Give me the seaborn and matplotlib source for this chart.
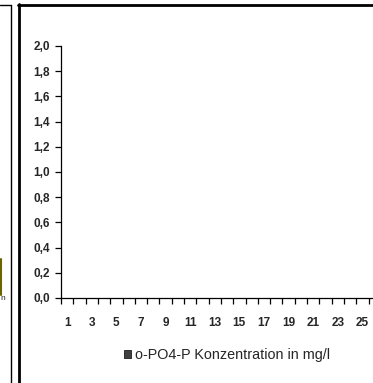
import numpy as np
import pandas as pd
import seaborn as sns
import matplotlib.pyplot as plt
from matplotlib.lines import Line2D
from matplotlib.patches import Patch
from matplotlib.ticker import FixedLocator, FuncFormatter

# Tage (Kategorien) und Messwerte - im Original ist keine Säule sichtbar
days = list(range(1, 27))
po4_values = [0.0] * len(days)
series_label = 'o-PO4-P Konzentration in mg/l'
y_ticks = [0.0, 0.2, 0.4, 0.6, 0.8, 1.0, 1.2, 1.4, 1.6, 1.8, 2.0]

W, H = 373, 383
sns.set_style('white')
plt.rcParams['font.family'] = ['Liberation Sans', 'DejaVu Sans']

fig = plt.figure(figsize=(W / 100, H / 100), dpi=100)
fig.patch.set_facecolor('white')

# Achsen in Pixeln des Originals
cat_w = 12.3
left_px, top_px, base_px = 61.0, 46.0, 298.0
ax = fig.add_axes([left_px / W, 1 - base_px / H, len(days) * cat_w / W, (base_px - top_px) / H])

df = pd.DataFrame({'Tag': [str(d) for d in days], 'Wert': po4_values})
sns.barplot(data=df, x='Tag', y='Wert', color='#404040', linewidth=0, ax=ax)

ax.set_xlim(-0.5, len(days) - 0.5)
ax.set_ylim(0, 2.0)
ax.set_xlabel('')
ax.set_ylabel('')
for s in ['top', 'right']:
    ax.spines[s].set_visible(False)
for s in ['left', 'bottom']:
    ax.spines[s].set_color('black')
    ax.spines[s].set_linewidth(0.9)

ax.set_yticks(y_ticks)
ax.yaxis.set_major_formatter(FuncFormatter(lambda v, p: f'{v:.1f}'.replace('.', ',')))
ax.tick_params(axis='y', which='major', left=True, direction='out', length=4, width=0.9,
               color='black', pad=4, labelsize=8.5)

ax.set_xticks(range(0, len(days), 2))
ax.set_xticklabels([str(d) for d in days[::2]])
ax.xaxis.set_minor_locator(FixedLocator(np.arange(-0.5, len(days), 1.0)))
ax.tick_params(axis='x', which='major', bottom=True, length=0, pad=14, labelsize=8.5)
ax.tick_params(axis='x', which='minor', bottom=True, direction='out', length=4, width=0.9,
               color='black')
for lab in ax.get_xticklabels() + ax.get_yticklabels():
    lab.set_fontweight('bold')
ax.grid(False)

# Legende
handle = Patch(facecolor='#404040', edgecolor='black', linewidth=0.5, label=series_label)
fig.legend(handles=[handle], loc='center left', bbox_to_anchor=(117 / W, 1 - 355 / H),
           frameon=False, fontsize=10.4, handlelength=0.5, handleheight=0.55,
           handletextpad=0.25, borderpad=0)

# Rahmen des Diagramms und Reste des Nachbardiagramms
def hline(y, x0, x1, lw):
    fig.add_artist(Line2D([x0 / W, x1 / W], [1 - y / H, 1 - y / H], color='black', lw=lw))

def vline(x, y0, y1, lw):
    fig.add_artist(Line2D([x / W, x / W], [1 - y0 / H, 1 - y1 / H], color='black', lw=lw))

hline(4.5, 18, W, 2.0)
vline(18.5, 4, H, 2.0)
hline(5, 0, 10.5, 1.0)
vline(10.5, 5, H, 1.0)
fig.add_artist(Line2D([1 / W, 1 / W], [1 - 259 / H, 1 - 295 / H], color='#6b6500', lw=1.5))
fig.text(0.5 / W, 1 - 299 / H, 'n', fontsize=6, va='center', ha='left')

# abgeschnittener Titel oben (nur der untere Rand ist sichtbar)
fig.text(205 / W, 1 - 0.3 / H, 'Konzentration o-PO4-P', fontsize=9, color='#a0a0a0',
         ha='center', va='baseline')

fig.savefig('out.png', dpi=100, facecolor='white')
